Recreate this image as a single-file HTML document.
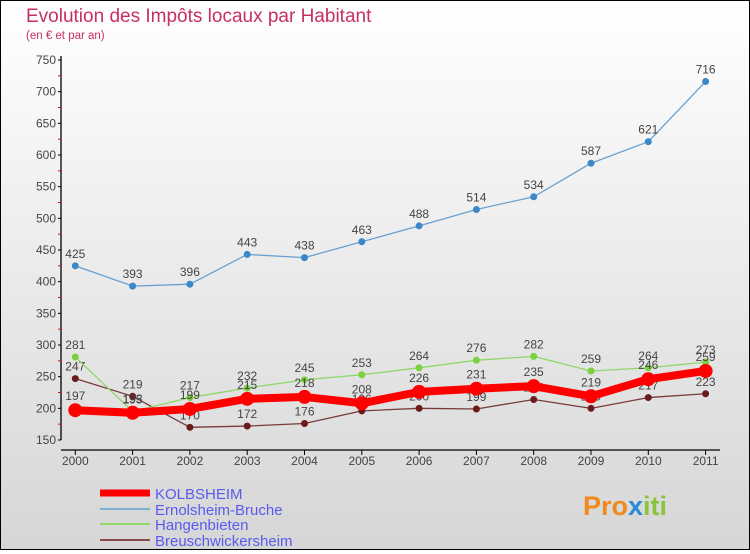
<!DOCTYPE html>
<html><head><meta charset="utf-8"><style>
html,body{margin:0;padding:0}
body{width:750px;height:550px;overflow:hidden;font-family:"Liberation Sans",sans-serif}
#wrap{position:relative;width:748px;height:548px;border:1px solid #000;background:linear-gradient(#ffffff,#d6d6d6)}
</style></head><body>
<div id="wrap">
<svg id="chart" width="748" height="548" viewBox="1 1 748 548">
<text x="26" y="22" font-size="19" fill="#c8305f">Evolution des Impôts locaux par Habitant</text>
<text x="26" y="39" font-size="11.5" fill="#c8305f">(en € et par an)</text>
<g id="axes"></g><g id="series"></g><g id="legend"></g>
<g>
<text x="583" y="515" font-size="27" font-weight="bold" fill="#f08a1c">Pro<tspan fill="#2a8ad8">x</tspan><tspan fill="#8bc43a">iti</tspan></text>
</g>
</svg>
</div>
<script>
const years=["2000","2001","2002","2003","2004","2005","2006","2007","2008","2009","2010","2011"];
const yTicks=[150,200,250,300,350,400,450,500,550,600,650,700,750];
const kolbsheim=[197,193,199,215,218,208,226,231,235,219,246,259];
const ernolsheim=[425,393,396,443,438,463,488,514,534,587,621,716];
const hangenbieten=[281,195,217,232,245,253,264,276,282,259,264,273];
const breusch=[247,219,170,172,176,196,200,199,214,200,217,223];
const seriesNames=["KOLBSHEIM","Ernolsheim-Bruche","Hangenbieten","Breuschwickersheim"];
const NS="http://www.w3.org/2000/svg";
function xS(i){return 75.3+i*57.3;}
function yS(v){return 440-(v-150)*(380/600);}
function mk(tag,attrs,parent){const e=document.createElementNS(NS,tag);for(const k in attrs)e.setAttribute(k,attrs[k]);parent.appendChild(e);return e;}
const axes=document.getElementById('axes');
let a=mk('line',{x1:61,y1:56,x2:61,y2:440,stroke:'#000','stroke-width':1.3},axes);


a=mk('line',{x1:61,y1:450,x2:720,y2:450,stroke:'#000','stroke-width':1.3},axes);


yTicks.forEach((v,i)=>{
  mk('line',{x1:58,y1:yS(v),x2:61,y2:yS(v),stroke:'#000'},axes);
  if(i<yTicks.length-1)mk('line',{x1:58,y1:yS(v+25),x2:61,y2:yS(v+25),stroke:'#e00'},axes);
  const t=mk('text',{x:56,y:yS(v)+4,'font-size':12,'text-anchor':'end',fill:'#444'},axes);
  t.textContent=v;
  
  
});
years.forEach((y,i)=>{
  mk('line',{x1:xS(i),y1:450,x2:xS(i),y2:455,stroke:'#000'},axes);
  const t=mk('text',{x:xS(i),y:465,'font-size':12,'text-anchor':'middle',fill:'#444'},axes);
  t.textContent=y;
  
  
});
const sg=document.getElementById('series');
function draw(data,color,w,r,dot,name,labOff){
  const g=mk('g',{},sg);
  
  
  mk('polyline',{points:data.map((v,i)=>xS(i)+','+yS(v)).join(' '),fill:'none',stroke:color,'stroke-width':w,'stroke-linejoin':'round'},g);
  data.forEach((v,i)=>{
    const c=mk('circle',{cx:xS(i),cy:yS(v),r:r,fill:dot},g);
    
    
    const t=mk('text',{x:xS(i),y:yS(v)+labOff,'font-size':12,'text-anchor':'middle',fill:'#444'},g);
    t.textContent=v;
    
    
  });
}
draw(breusch,'#7a3a3a',1.3,3.5,'#6a1a1a','series-breuschwickersheim',-8);
draw(hangenbieten,'#8fd86a',1.3,3.5,'#7ad040','series-hangenbieten',-8);
draw(ernolsheim,'#6aa0d0',1.3,3.5,'#3a88c8','series-ernolsheim-bruche',-8);
draw(kolbsheim,'#ff0000',8,7,'#ff0000','series-kolbsheim',-10);
const lg=document.getElementById('legend');
const lc=['#ff0000','#7aaed4','#8fd86a','#8a4a4a'],lw=[7,2,2,2],ly=[493,509,524,540];
seriesNames.forEach((n,i)=>{
  const g=mk('g',{},lg);
  
  
  mk('line',{x1:100,y1:ly[i],x2:150,y2:ly[i],stroke:lc[i],'stroke-width':lw[i]},g);
  const t=mk('text',{x:155,y:ly[i]+6,'font-size':15,fill:'#5a5af0'},g);
  t.textContent=n;
});
</script>
</body></html>
